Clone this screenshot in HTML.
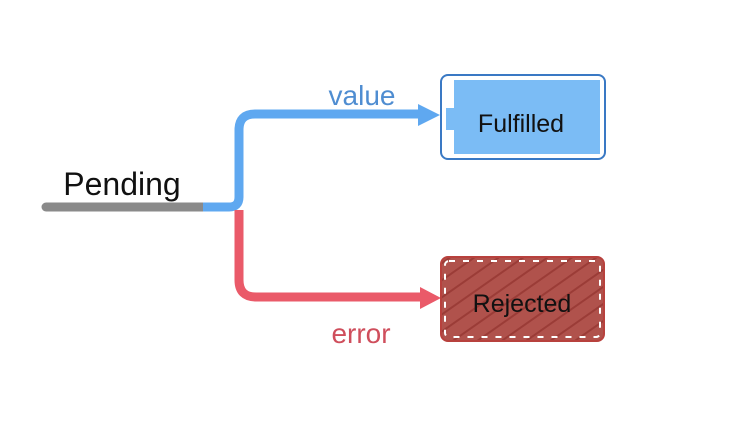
<!DOCTYPE html>
<html><head><style>
html,body{margin:0;padding:0;background:#fff;width:729px;height:422px;overflow:hidden}
svg{display:block}
text{font-family:"Liberation Sans",sans-serif}
</style></head><body>
<svg width="729" height="422" viewBox="0 0 729 422">
<defs>
<pattern id="hatch" width="14" height="14" patternUnits="userSpaceOnUse" patternTransform="rotate(-35)">
<rect width="14" height="14" fill="#b0524c"/>
<line x1="0" y1="7" x2="14" y2="7" stroke="#9b3c37" stroke-width="2"/>
</pattern>
</defs>
<!-- gray line -->
<line x1="46" y1="207" x2="205" y2="207" stroke="#8a8a8a" stroke-width="9" stroke-linecap="round"/>
<!-- blue path -->
<path d="M203 207 H229 Q239 207 239 197 V130 Q239 114 255 114 H422" fill="none" stroke="#5fa8f0" stroke-width="9" stroke-linejoin="round"/>
<polygon points="418,104 440,115 418,126" fill="#5fa8f0"/>
<!-- red path -->
<path d="M239 210 V280 Q239 297 256 297 H424" fill="none" stroke="#ea5a69" stroke-width="9"/>
<polygon points="420,287 441,298 420,309" fill="#ea5a69"/>
<!-- fulfilled -->
<rect x="441" y="75" width="164" height="84" rx="7" fill="#fff" stroke="#3a79c4" stroke-width="2"/>
<rect x="454" y="80" width="146" height="74" fill="#7bbcf5"/>
<rect x="446" y="108" width="153" height="22" fill="#7bbcf5"/>
<text x="521" y="132" font-size="25" text-anchor="middle" fill="#111">Fulfilled</text>
<!-- rejected -->
<rect x="441" y="257" width="163" height="84" rx="7" fill="url(#hatch)" stroke="#b8413d" stroke-width="2"/>
<rect x="445" y="261" width="155" height="76" rx="4" fill="none" stroke="#fff" stroke-width="2" stroke-dasharray="6 8"/>
<text x="522" y="312" font-size="25" text-anchor="middle" fill="#111">Rejected</text>
<!-- labels -->
<text x="122" y="195" font-size="32" text-anchor="middle" fill="#111">Pending</text>
<text x="362" y="105" font-size="28" text-anchor="middle" fill="#4f8dd1">value</text>
<text x="361" y="343" font-size="28" text-anchor="middle" fill="#cf4e5c">error</text>
</svg>
</body></html>
